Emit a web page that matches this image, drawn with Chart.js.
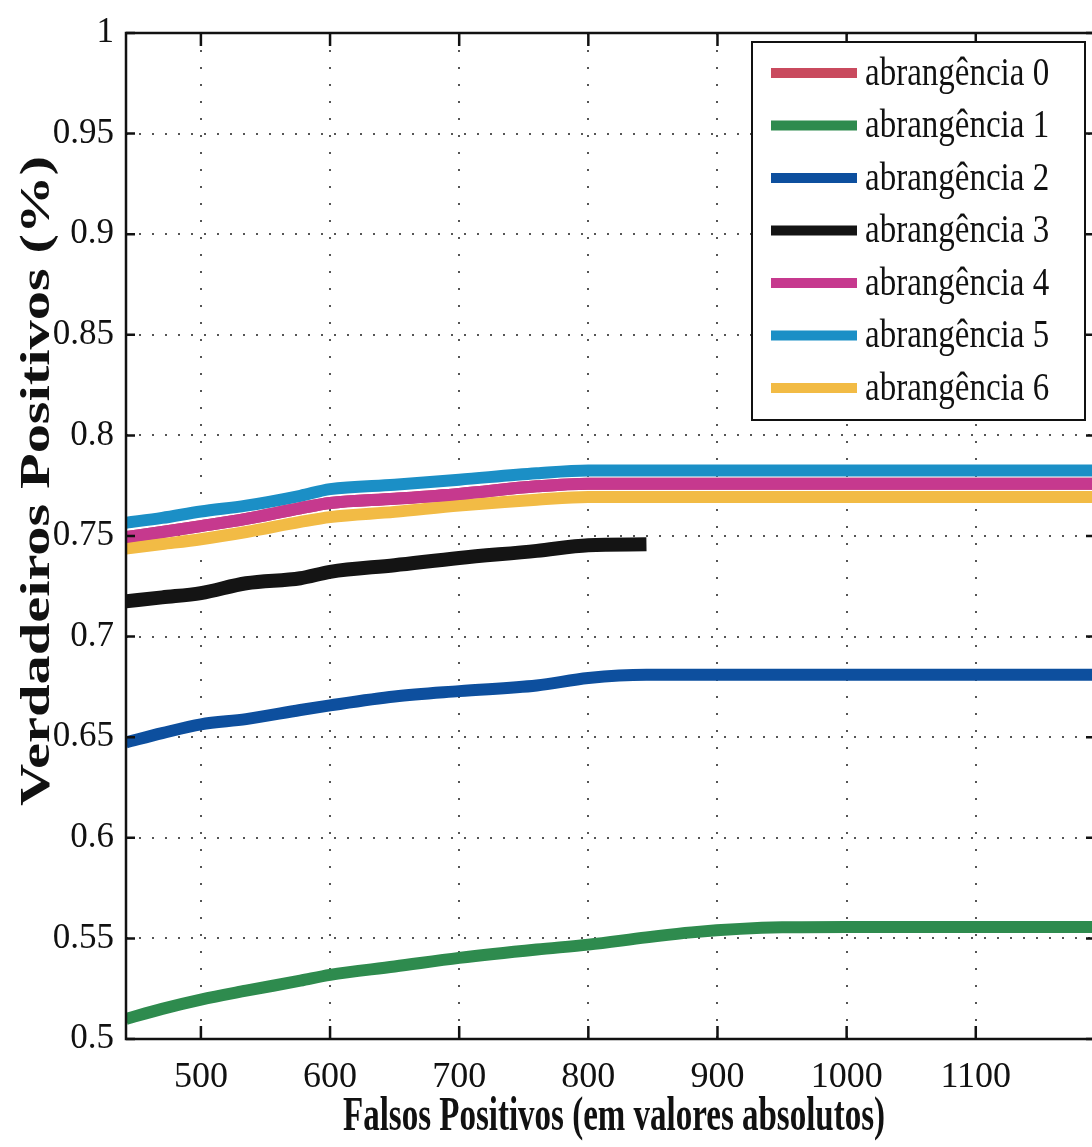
<!DOCTYPE html>
<html>
<head>
<meta charset="utf-8">
<script src="https://cdn.jsdelivr.net/npm/chart.js@4.4.1/dist/chart.umd.min.js"></script>
<style>
  html, body { margin: 0; padding: 0; background: #fff; }
  #wrap { width: 1092px; height: 1147px; position: relative; }
</style>
</head>
<body>
<div id="wrap"><canvas id="roc"></canvas></div>
<script>
// False positives (x) shared by every series
const falsosPositivos = [442, 470, 500, 535, 577, 600, 650, 700, 760, 800, 845, 880, 950, 1000, 1100, 1190];

// True positive rate per coverage level
const abr0 = [0.7495, 0.7520, 0.7549, 0.7585, 0.7638, 0.7664, 0.7685, 0.7709, 0.7747, 0.7760, 0.7760, 0.7760, 0.7760, 0.7760, 0.7760, 0.7760];
const abr1 = [0.5100, 0.5150, 0.5196, 0.5240, 0.5290, 0.5319, 0.5360, 0.5403, 0.5445, 0.5469, 0.5505, 0.5530, 0.5555, 0.5557, 0.5557, 0.5557];
const abr2 = [0.6474, 0.6520, 0.6564, 0.6590, 0.6635, 0.6658, 0.6702, 0.6729, 0.6757, 0.6794, 0.6810, 0.6810, 0.6810, 0.6810, 0.6810, 0.6810];
const abr3 = [0.7175, 0.7195, 0.7216, 0.7265, 0.7290, 0.7322, 0.7355, 0.7391, 0.7426, 0.7454, 0.7459, null, null, null, null, null];
const abr4 = [0.7495, 0.7520, 0.7549, 0.7585, 0.7638, 0.7664, 0.7685, 0.7709, 0.7747, 0.7760, 0.7760, 0.7760, 0.7760, 0.7760, 0.7760, 0.7760];
const abr5 = [0.7566, 0.7590, 0.7622, 0.7651, 0.7700, 0.7733, 0.7755, 0.7780, 0.7812, 0.7826, 0.7826, 0.7826, 0.7826, 0.7826, 0.7826, 0.7826];
const abr6 = [0.7438, 0.7460, 0.7484, 0.7520, 0.7570, 0.7594, 0.7620, 0.7651, 0.7680, 0.7694, 0.7694, 0.7694, 0.7694, 0.7694, 0.7694, 0.7694];

const seriesNames = ['abrangência 0', 'abrangência 1', 'abrangência 2', 'abrangência 3',
                     'abrangência 4', 'abrangência 5', 'abrangência 6'];
const seriesValues = [abr0, abr1, abr2, abr3, abr4, abr5, abr6];
const seriesColors = ['#c94a5e', '#2e8b4e', '#0d4f9e', '#141414', '#c6398e', '#1b8fc6', '#f2bb45'];

// Tick labels
const xTicks = [500, 600, 700, 800, 900, 1000, 1100];
const yTicks = [0.5, 0.55, 0.6, 0.65, 0.7, 0.75, 0.8, 0.85, 0.9, 0.95, 1];

const xTitle = 'Falsos Positivos (em valores absolutos)';
const yTitle = 'Verdadeiros Positivos (%)';

const SERIF = '"Liberation Serif", "Times New Roman", serif';

// Draw stretched text (the original figure is taller than wide)
function stretchedText(ctx, text, x, y, sx, sy, angle) {
    ctx.save();
    ctx.translate(x, y);
    if (angle) ctx.rotate(angle);
    ctx.scale(sx, sy);
    ctx.fillText(text, 0, 0);
    ctx.restore();
}

// Axes box, inward ticks, titles and legend
const framePlugin = {
    id: 'frame',
    afterDatasetsDraw(chart) {
        const { ctx, chartArea: a, scales: { x, y } } = chart;
        const right = a.right + 3;
        ctx.save();

        // box
        ctx.strokeStyle = '#111';
        ctx.lineWidth = 2.5;
        ctx.beginPath();
        ctx.moveTo(right, a.top);
        ctx.lineTo(a.left, a.top);
        ctx.lineTo(a.left, a.bottom);
        ctx.lineTo(right, a.bottom);
        ctx.stroke();

        // inward ticks
        ctx.beginPath();
        xTicks.forEach(v => {
            const px = x.getPixelForValue(v);
            ctx.moveTo(px, a.bottom); ctx.lineTo(px, a.bottom - 13);
            ctx.moveTo(px, a.top); ctx.lineTo(px, a.top + 13);
        });
        yTicks.forEach(v => {
            const py = y.getPixelForValue(v);
            ctx.moveTo(a.left, py); ctx.lineTo(a.left + 9, py);
            ctx.moveTo(right, py); ctx.lineTo(right - 9, py);
        });
        ctx.stroke();

        // axis titles
        ctx.fillStyle = '#111';
        ctx.font = 'bold 33px ' + SERIF;
        ctx.textAlign = 'center';
        ctx.textBaseline = 'alphabetic';
        stretchedText(ctx, xTitle, 614, 1130, 1, 1.45, 0);
        ctx.font = 'bold 43px ' + SERIF;
        stretchedText(ctx, yTitle, 49, 481, 1.36, 1, -Math.PI / 2);

        // legend
        const lx = 752, ly = 42, lw = 333, lh = 378;
        ctx.fillStyle = '#fff';
        ctx.fillRect(lx, ly, lw, lh);
        ctx.strokeStyle = '#111';
        ctx.lineWidth = 2;
        ctx.strokeRect(lx, ly, lw, lh);
        ctx.font = '33px ' + SERIF;
        ctx.textAlign = 'left';
        ctx.textBaseline = 'middle';
        chart.data.datasets.forEach((ds, i) => {
            const cy = 73 + i * 52.5;
            ctx.fillStyle = ds.borderColor;
            ctx.fillRect(771, cy - 5, 86, 10);
            ctx.fillStyle = '#111';
            stretchedText(ctx, ds.label, 865, cy + 1, 1, 1.22, 0);
        });
        ctx.restore();
    }
};

const datasets = seriesNames.map((name, i) => ({
    label: name,
    data: falsosPositivos.map((fp, j) => ({ x: fp, y: seriesValues[i][j] })),
    borderColor: seriesColors[i],
    backgroundColor: seriesColors[i],
    borderWidth: i === 3 ? 14 : 12,
    borderCapStyle: 'butt',
    pointRadius: 0,
    cubicInterpolationMode: 'monotone',
    fill: false,
    // abrangência 0 sits underneath abrangência 4
    order: i === 0 ? 1 : 0
}));

new Chart(document.getElementById('roc'), {
    type: 'line',
    data: { datasets },
    options: {
        responsive: true,
        maintainAspectRatio: false,
        animation: false,
        events: [],
        layout: { padding: { top: 25, left: 0, right: 0, bottom: 0 } },
        plugins: {
            legend: { display: false },
            tooltip: { enabled: false }
        },
        scales: {
            x: {
                type: 'linear',
                min: 442,
                max: 1190,
                afterBuildTicks: s => { s.ticks = xTicks.map(v => ({ value: v })); },
                afterFit: s => { s.height = 108; },
                ticks: {
                    font: { family: SERIF, size: 36 },
                    color: '#111',
                    padding: 17,
                    maxRotation: 0,
                    autoSkip: false,
                    callback: v => String(v)
                },
                grid: { color: '#555', lineWidth: 2, drawTicks: false },
                border: { display: false, dash: [2, 15] }
            },
            y: {
                type: 'linear',
                min: 0.5,
                max: 1,
                afterBuildTicks: s => { s.ticks = yTicks.map(v => ({ value: v })); },
                afterFit: s => { s.width = 126; },
                ticks: {
                    font: { family: SERIF, size: 35 },
                    color: '#111',
                    padding: 12,
                    callback: v => String(v)
                },
                grid: { color: '#555', lineWidth: 2, drawTicks: false },
                border: { display: false, dash: [2, 11] }
            }
        }
    },
    plugins: [framePlugin]
});
</script>
</body>
</html>
